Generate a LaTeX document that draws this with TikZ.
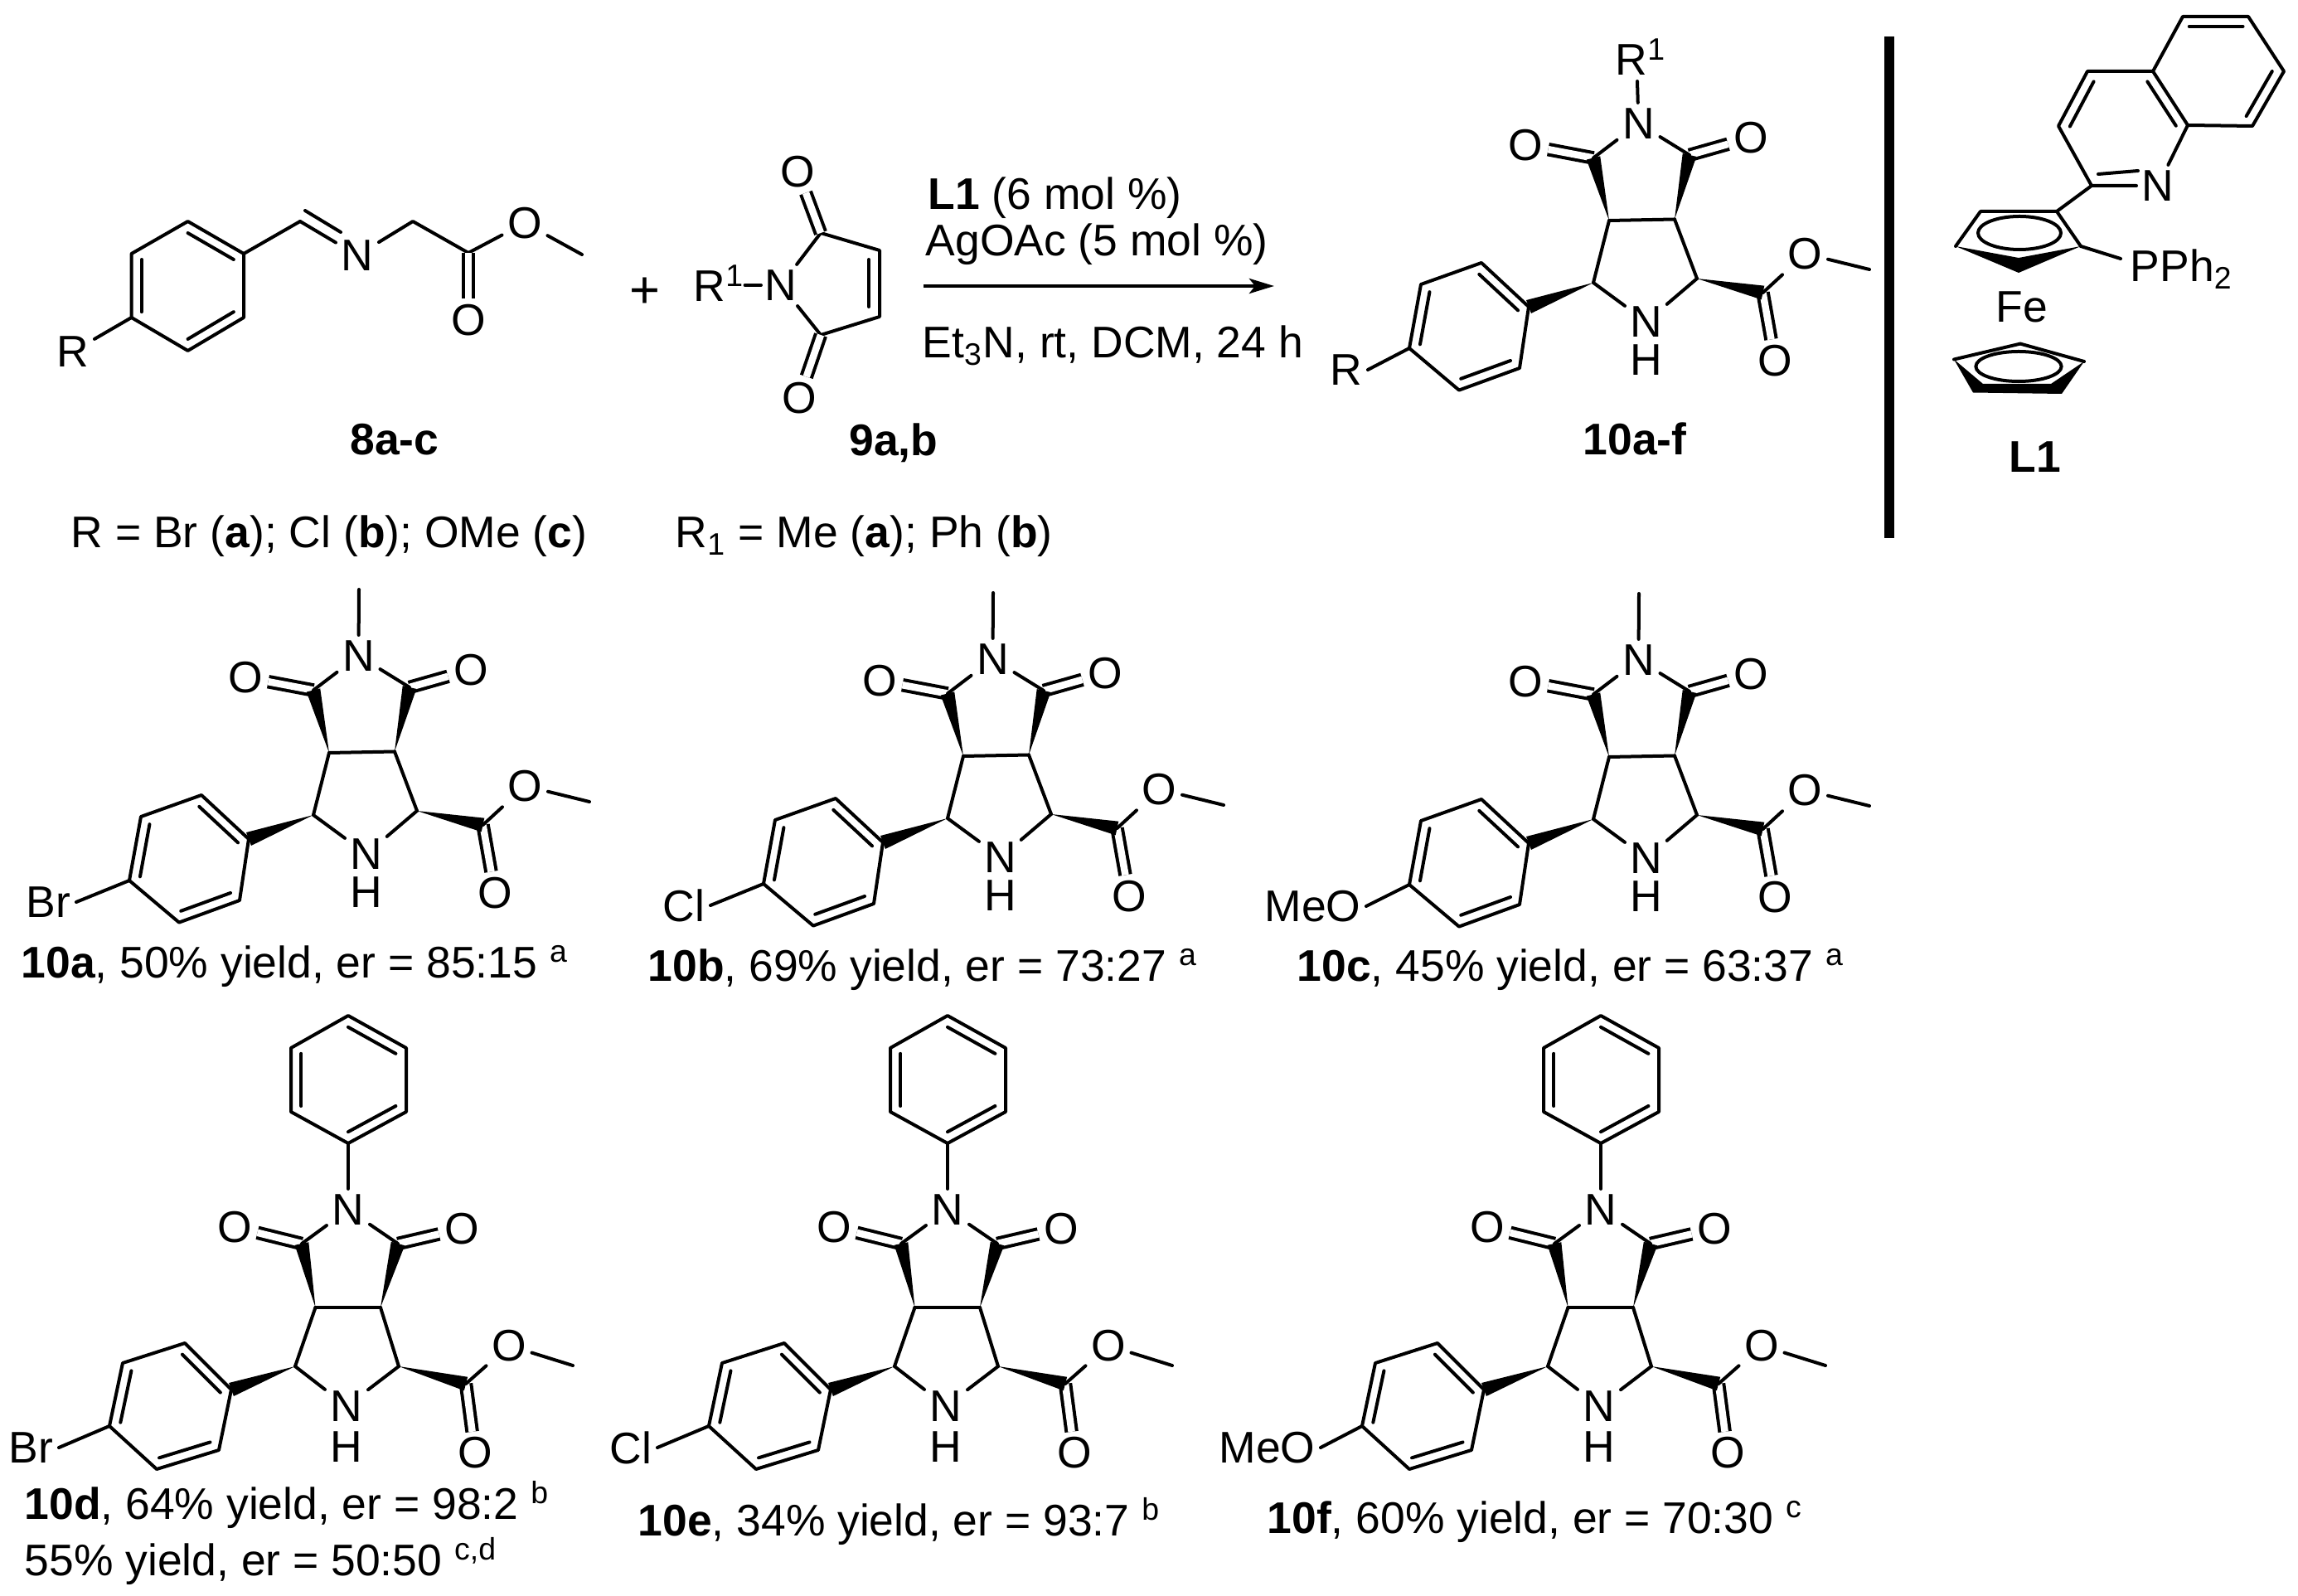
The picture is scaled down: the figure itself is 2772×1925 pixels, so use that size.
\documentclass[tikz,border=0pt]{standalone}
\usepackage{fontspec}
\setmainfont{Liberation Sans}
\usepackage{tikz}
\usetikzlibrary{calc,arrows.meta}

\tikzset{
  every node/.style = {font = \fontsize{15.2}{18}\selectfont},
  atom/.style = {inner sep = 0.06cm},
  lbl/.style = {anchor = base west, inner sep = 0pt},
  bond/.style = {line width = 0.04cm, line cap = round, line join = round},
  dbl/.style = {line width = 0.04cm, double, double distance = 0.085cm},
  react/.style = {line width = 0.045cm, -{Stealth[length = 0.3cm, width = 0.18cm, inset = 0.07cm]}}
}

% inner line of a double bond, pulled towards the ring centre
\newcommand{\innerbond}[3]{\draw[bond] ($(#1)!.18!(#3)$) -- ($(#2)!.18!(#3)$);}
% solid wedge, narrow end first
\newcommand{\solidbond}[2]{\fill ($(#1)$) -- ($(#2)!0.085cm!90:(#1)$) -- ($(#2)!0.085cm!-90:(#1)$) -- cycle;}

% atoms of the products with N-methyl
\newcommand{\atomsme}{
  \node[atom] (NT) at (1976.5,149) {N};
  \node[atom] (OL) at (1840,175) {O};
  \node[atom] (OR) at (2112,166) {O};
  \coordinate (CL) at (1922,190.5);
  \coordinate (CR) at (2038,187);
  \coordinate (JL) at (1941,266);
  \coordinate (JR) at (2020,264.5);
  \coordinate (BL) at (1922,341);
  \coordinate (BR) at (2047,336);
  \node[atom, inner ysep = 0.02cm] (NB) at (1986,388) {N};
  \node[lbl, anchor = center] (HB) at (1986,434) {H};
  \coordinate (A1) at (1844,370);
  \coordinate (A2) at (1787,317);
  \coordinate (A3) at (1714,343);
  \coordinate (A4) at (1700,420);
  \coordinate (A5) at (1760,470.6);
  \coordinate (A6) at (1833,444);
  \coordinate (AC) at (1772,394);
  \coordinate (EC) at (2126.5,353);
  \node[atom] (EO) at (2177.5,306) {O};
  \coordinate (EM) at (2255,325);
  \node[atom] (ED) at (2141,435) {O};
}

% atoms of the products with N-phenyl
\newcommand{\atomsph}{
  \node[atom] (NT) at (420,1459) {N};
  \node[atom] (OL) at (283,1480) {O};
  \node[atom] (OR) at (557,1482) {O};
  \coordinate (CL) at (364,1500);
  \coordinate (CR) at (480,1500);
  \coordinate (JL) at (380.5,1577);
  \coordinate (JR) at (459,1577);
  \coordinate (BL) at (356,1648);
  \coordinate (BR) at (481,1648);
  \node[atom, inner ysep = 0.02cm] (NB) at (418,1696) {N};
  \node[lbl, anchor = center] (HB) at (418,1745) {H};
  \coordinate (A1) at (279,1676);
  \coordinate (A2) at (223,1620);
  \coordinate (A3) at (148,1644);
  \coordinate (A4) at (132,1720);
  \coordinate (A5) at (189,1772);
  \coordinate (A6) at (264,1749);
  \coordinate (AC) at (206,1696);
  \coordinate (EC) at (562,1669);
  \node[atom] (EO) at (614,1623) {O};
  \coordinate (EM) at (691,1647);
  \node[atom] (ED) at (573,1752.5) {O};
  \coordinate (P1) at (420,1379);
  \coordinate (P2) at (490,1341);
  \coordinate (P3) at (490,1264);
  \coordinate (P4) at (420,1225);
  \coordinate (P5) at (351,1264);
  \coordinate (P6) at (351,1341);
  \coordinate (PC) at (420,1302);
  \draw[bond] (P1) -- (P2) -- (P3) -- (P4) -- (P5) -- (P6) -- cycle;
  \innerbond{P1}{P2}{PC}
  \innerbond{P3}{P4}{PC}
  \innerbond{P5}{P6}{PC}
  \draw[bond] (P1) -- (NT);
}

% bonds common to all products, #1 = aryl substituent, #2 = its x offset
\newcommand{\productbonds}[2]{
  \draw[dbl] (CL) -- (OL);
  \draw[dbl] (CR) -- (OR);
  \draw[dbl] (EC) -- (ED);
  \draw[bond] (NT) -- (CL);
  \draw[bond] (NT) -- (CR);
  \draw[bond] (JL) -- (JR);
  \draw[bond] (JL) -- (BL);
  \draw[bond] (JR) -- (BR);
  \draw[bond] (BL) -- (NB);
  \draw[bond] (BR) -- (NB);
  \draw[bond] (EC) -- (EO);
  \draw[bond] (EO) -- (EM);
  \solidbond{JL}{CL}
  \solidbond{JR}{CR}
  \solidbond{BL}{A1}
  \solidbond{BR}{EC}
  \draw[bond] (A1) -- (A2) -- (A3) -- (A4) -- (A5) -- (A6) -- cycle;
  \innerbond{A1}{A2}{AC}
  \innerbond{A3}{A4}{AC}
  \innerbond{A5}{A6}{AC}
  \node[atom, anchor = east] (XA) at ($(A4)+(#2,26)$) {#1};
  \draw[bond] (A4) -- (XA.east);
}

\begin{document}
\begin{tikzpicture}[x = 0.01cm, y = -0.01cm]

\useasboundingbox (0,0) rectangle (2772,1925);

% imine 8
\coordinate (R1) at (294,306);
\coordinate (R2) at (226.6,267);
\coordinate (R3) at (158.6,306);
\coordinate (R4) at (158.6,383);
\coordinate (R5) at (226.6,423);
\coordinate (R6) at (294,383);
\coordinate (RC) at (226.6,345);
\coordinate (CH) at (362,267);
\node[atom] (NI) at (431,308) {N};
\coordinate (CM) at (498,267);
\coordinate (CE) at (565,305);
\node[atom] (OE) at (633,269) {O};
\coordinate (ME) at (702,307);
\node[atom] (OD) at (565,386) {O};
\node[atom] (RS) at (88,424) {R};
\draw[bond] (R1) -- (R2) -- (R3) -- (R4) -- (R5) -- (R6) -- cycle;
\innerbond{R1}{R2}{RC}
\innerbond{R3}{R4}{RC}
\innerbond{R5}{R6}{RC}
\draw[bond] (R1) -- (CH);
\draw[bond] (R4) -- (RS);
\draw[bond] (CH) -- (NI);
\coordinate (CHi) at (368,254);
\coordinate (NIi) at (411,280);
\draw[bond] (CHi) -- (NIi);
\draw[bond] (NI) -- (CM) -- (CE);
\draw[bond] (CE) -- (OE) -- (ME);
\draw[dbl] (CE) -- (OD);
\node[lbl, anchor = center] (L8) at (476,530) {\textbf{8a-c}};
\node (PL) at (778,353) {\fontsize{18}{18}\selectfont +};

% maleimide 9
\node[lbl] (RM) at (836,364) {R\textsuperscript{1}};
\node[atom, inner xsep = 0.04cm] (NM) at (942,344) {N};
\coordinate (C1) at (990,281);
\coordinate (C2) at (1061,302);
\coordinate (C3) at (1061,382);
\coordinate (C4) at (990,404);
\node[atom] (O1) at (962.5,207) {O};
\node[atom] (O2) at (964,480) {O};
\coordinate (C2i) at (1048,313);
\coordinate (C3i) at (1048,370);
\draw[bond] (RM.east |- NM) -- (NM);
\draw[bond] (NM) -- (C1) -- (C2) -- (C3) -- (C4) -- (NM);
\draw[bond] (C2i) -- (C3i);
\draw[dbl] (C1) -- (O1);
\draw[dbl] (C4) -- (O2);
\node[lbl, anchor = center] (L9) at (1078,534) {\textbf{9a,b}};

% arrow and conditions
\coordinate (AS) at (1114,345);
\coordinate (AE) at (1537,345);
\draw[react] (AS) -- (AE);
\node[lbl] (T1) at (1119,253) {\textbf{L1} (6 mol \%)};
\node[lbl] (T2) at (1116,309) {AgOAc (5 mol \%)};
\node[lbl] (T3) at (1112,432) {Et\textsubscript{3}N, rt, DCM, 24 h};

% product 10a-f
\begin{scope}[name prefix = top-]
\atomsme
\productbonds{R}{-50}
\node[lbl] (RT) at (1948,90.6) {R\textsuperscript{1}};
\coordinate (RB) at (1975,98);
\draw[bond] (RB) -- (NT);
\node[lbl, anchor = center] (L10) at (1972,529) {\textbf{10a-f}};
\end{scope}

% separator
\coordinate (SA) at (2279,44);
\coordinate (SB) at (2279,649);
\draw[line width = 0.12cm] (SA) -- (SB);

% ligand L1
\coordinate (Q1) at (2633,20);
\coordinate (Q2) at (2712,20);
\coordinate (Q3) at (2755,86);
\coordinate (Q4) at (2717,152);
\coordinate (Q5) at (2639,151);
\coordinate (Q6) at (2597,86);
\coordinate (Q7) at (2518,86);
\coordinate (Q8) at (2483,152);
\coordinate (Q9) at (2523,224);
\node[atom] (NQ) at (2603,224) {N};
\coordinate (QB) at (2676,86);
\coordinate (QP) at (2560,155);
\coordinate (Q9i) at (2531,210);
\coordinate (NQi) at (2579,206);
\draw[bond] (Q6) -- (Q1) -- (Q2) -- (Q3) -- (Q4) -- (Q5) -- cycle;
\draw[bond] (Q6) -- (Q7) -- (Q8) -- (Q9) -- (NQ) -- (Q5);
\innerbond{Q1}{Q2}{QB}
\innerbond{Q3}{Q4}{QB}
\innerbond{Q5}{Q6}{QP}
\innerbond{Q7}{Q8}{QP}
\draw[bond] (Q9i) -- (NQi);
% upper ring
\coordinate (F1) at (2359,297);
\coordinate (F2) at (2389,255);
\coordinate (F3) at (2481,255);
\coordinate (F4) at (2510,297);
\coordinate (F5) at (2435,329);
\coordinate (F6) at (2435,311);
\coordinate (FC) at (2436,281);
\fill (F1) -- (F5) -- (F4) -- (F6) -- cycle;
\draw[bond] (F1) -- (F2) -- (F3) -- (F4);
\draw[bond] (FC) ellipse [x radius = 0.5cm, y radius = 0.2cm];
\draw[bond] (F3) -- (Q9);
\node[lbl] (PP) at (2569,340) {PPh\textsubscript{2}};
\coordinate (PB) at (2558,312);
\draw[bond] (F4) -- (PB);
\node[lbl] (FE) at (2407,389) {Fe};
% lower ring
\coordinate (G1) at (2357,433.5);
\coordinate (G2) at (2437,414.6);
\coordinate (G3) at (2514,436);
\coordinate (G4) at (2487,475);
\coordinate (G5) at (2380,473.5);
\coordinate (G6) at (2392,463);
\coordinate (G7) at (2474,463);
\coordinate (GC) at (2435,442);
\fill (G1) -- (G5) -- (G4) -- (G3) -- (G7) -- (G6) -- cycle;
\draw[bond] (G1) -- (G2) -- (G3);
\draw[bond] (GC) ellipse [x radius = 0.516cm, y radius = 0.18cm];
\node[lbl, anchor = center] (L1) at (2455,551) {\textbf{L1}};

% definition of R
\node[lbl] (D1) at (85,661) {R = Br (\textbf{a}); Cl (\textbf{b}); OMe (\textbf{c})};
\node[lbl] (D2) at (814,661) {R\textsubscript{1} = Me (\textbf{a}); Ph (\textbf{b})};

% 10a
\begin{scope}[shift = {(-1544,642)}, name prefix = a-]
\atomsme
\productbonds{Br}{-64}
\coordinate (MT) at (1977,69);
\draw[bond] (MT) -- (NT);
\end{scope}
\node[lbl] (Ta) at (25,1179) {\textbf{10a}, 50\% yield, er = 85:15 \textsuperscript{a}};

% 10b
\begin{scope}[shift = {(-779,646)}, name prefix = b-]
\atomsme
\productbonds{Cl}{-64}
\coordinate (MT) at (1977,69);
\draw[bond] (MT) -- (NT);
\end{scope}
\node[lbl] (Tb) at (781,1183) {\textbf{10b}, 69\% yield, er = 73:27 \textsuperscript{a}};

% 10c
\begin{scope}[shift = {(0,647)}, name prefix = c-]
\atomsme
\productbonds{MeO}{-52}
\coordinate (MT) at (1977,69);
\draw[bond] (MT) -- (NT);
\end{scope}
\node[lbl] (Tc) at (1564,1183) {\textbf{10c}, 45\% yield, er = 63:37 \textsuperscript{a}};

% 10d
\begin{scope}[name prefix = d-]
\atomsph
\productbonds{Br}{-61}
\end{scope}
\node[lbl] (Td) at (29,1832) {\textbf{10d}, 64\% yield, er = 98:2 \textsuperscript{b}};
\node[lbl] (Td2) at (29,1900) {55\% yield, er = 50:50 \textsuperscript{c,d}};

% 10e
\begin{scope}[shift = {(723,0)}, name prefix = e-]
\atomsph
\productbonds{Cl}{-62}
\end{scope}
\node[lbl] (Te) at (769,1852) {\textbf{10e}, 34\% yield, er = 93:7 \textsuperscript{b}};

% 10f
\begin{scope}[shift = {(1511,0)}, name prefix = f-]
\atomsph
\productbonds{MeO}{-50}
\end{scope}
\node[lbl] (Tf) at (1528,1849) {\textbf{10f}, 60\% yield, er = 70:30 \textsuperscript{c}};

\end{tikzpicture}
\end{document}
